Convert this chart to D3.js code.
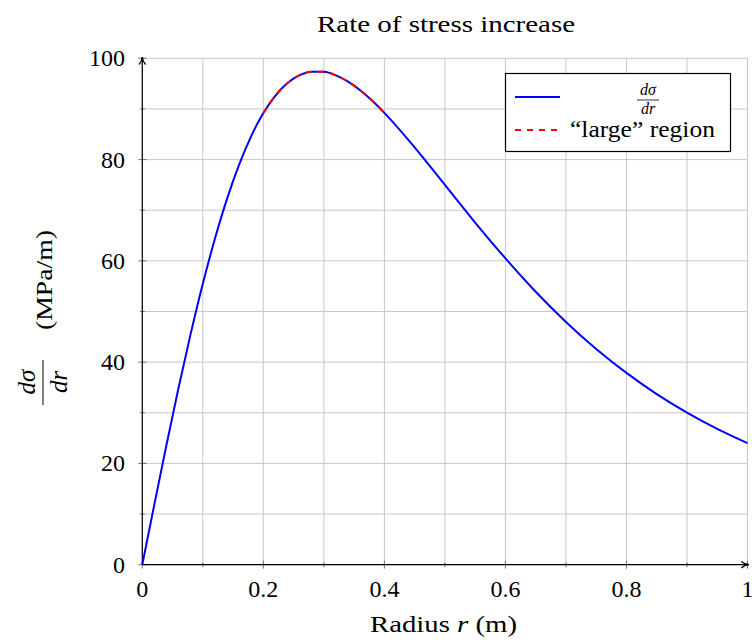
<!DOCTYPE html>
<head>
  <meta charset="utf-8">
  <script src="https://cdn.jsdelivr.net/npm/d3@7/dist/d3.min.js"></script>
  <style>
    body { margin:0; background:#fff; }
    text { font-family: "Liberation Serif", "DejaVu Serif", serif; fill:#000; }
    .grid line { stroke:#c8c8c8; stroke-width:1; }
  </style>
</head>
<body>
  <script>
    // values
    var radius = [0, 0.02, 0.04, 0.06, 0.08, 0.10, 0.12, 0.14, 0.16, 0.18, 0.20, 0.22, 0.24, 0.26, 0.28, 0.30,
                  0.32, 0.34, 0.36, 0.38, 0.40, 0.45, 0.50, 0.55, 0.60, 0.65, 0.70, 0.75, 0.80, 0.85, 0.90, 0.95, 1.00];
    var rate = [0, 11.96, 23.70, 34.99, 45.63, 55.47, 64.37, 72.23, 78.99, 84.64, 89.18, 92.65, 95.12, 96.66, 97.36, 97.32,
                96.63, 95.39, 93.69, 91.61, 89.23, 82.42, 75.00, 67.57, 60.50, 53.90, 47.94, 42.60, 37.88, 33.70, 30.04, 26.82, 24.00];
    var largeFrom = 0.2, largeTo = 0.4;
    var xTicks = [0, 0.2, 0.4, 0.6, 0.8, 1];
    var yTicks = [0, 20, 40, 60, 80, 100];
    var xMinor = [0.1, 0.3, 0.5, 0.7, 0.9];
    var yMinor = [10, 30, 50, 70, 90];

    var width = 752, height = 642;
    var svg = d3.select("body").append("svg").attr("width", width).attr("height", height);

    var x = d3.scaleLinear().domain([0, 1]).range([142.3, 747.5]);
    var y = d3.scaleLinear().domain([0, 100]).range([564.7, 58.3]);

    var pts = radius.map(function(r, i) { return [r, rate[i]]; });
    var large = pts.filter(function(p) { return p[0] >= largeFrom - 1e-9 && p[0] <= largeTo + 1e-9; });

    // grid
    var grid = svg.append("g").attr("class", "grid");
    grid.selectAll(".gx").data(xTicks.concat(xMinor)).enter().append("line")
      .attr("x1", function(d){ return x(d); }).attr("x2", function(d){ return x(d); })
      .attr("y1", y(0)).attr("y2", y(100));
    grid.selectAll(".gy").data(yTicks.concat(yMinor)).enter().append("line")
      .attr("x1", x(0)).attr("x2", x(1))
      .attr("y1", function(d){ return y(d); }).attr("y2", function(d){ return y(d); });

    // ticks
    var tk = svg.append("g").attr("stroke", "#555").attr("stroke-width", 0.8);
    xTicks.concat(xMinor).forEach(function(d){
      var len = xTicks.indexOf(d) >= 0 ? 4 : 2.5;
      tk.append("line").attr("x1", x(d)).attr("x2", x(d)).attr("y1", y(0) - len).attr("y2", y(0) + len);
    });
    yTicks.concat(yMinor).forEach(function(d){
      var len = yTicks.indexOf(d) >= 0 ? 4 : 2.5;
      tk.append("line").attr("y1", y(d)).attr("y2", y(d)).attr("x1", x(0) - len).attr("x2", x(0) + len);
    });

    // tick labels
    svg.selectAll(".xl").data(xTicks).enter().append("text")
      .attr("x", function(d){ return x(d); }).attr("y", 597)
      .attr("text-anchor", "middle").style("font-size", "24px")
      .text(function(d){ return d === 0 || d === 1 ? d3.format("d")(d) : d3.format(".1f")(d); });
    svg.selectAll(".yl").data(yTicks).enter().append("text")
      .attr("x", 125).attr("y", function(d){ return y(d) + 8; })
      .attr("text-anchor", "end").style("font-size", "24px")
      .text(function(d){ return d; });

    // axis lines with arrows
    var defs = svg.append("defs");
    defs.append("marker").attr("id", "arr").attr("viewBox", "0 0 10 10")
      .attr("refX", 9).attr("refY", 5).attr("markerWidth", 8).attr("markerHeight", 8)
      .attr("markerUnits", "userSpaceOnUse").attr("orient", "auto")
      .append("path").attr("d", "M0,1 Q5,5 10,5 Q5,5 0,9").attr("fill", "none")
      .attr("stroke", "#000").attr("stroke-width", 1.6);
    svg.append("line").attr("x1", x(0)).attr("x2", x(1) + 1).attr("y1", y(0)).attr("y2", y(0))
      .attr("stroke", "#000").attr("stroke-width", 1.2).attr("marker-end", "url(#arr)");
    svg.append("line").attr("x1", x(0)).attr("x2", x(0)).attr("y1", y(0)).attr("y2", y(100) - 1)
      .attr("stroke", "#000").attr("stroke-width", 1.2).attr("marker-end", "url(#arr)");

    // curves
    var line = d3.line().x(function(d){ return x(d[0]); }).y(function(d){ return y(d[1]); }).curve(d3.curveMonotoneX);
    svg.append("path").datum(pts).attr("d", line)
      .attr("fill", "none").attr("stroke", "#0000ff").attr("stroke-width", 2);
    svg.append("path").datum(large).attr("d", line)
      .attr("fill", "none").attr("stroke", "#ff0000").attr("stroke-width", 2).attr("stroke-dasharray", "6,6");

    // title
    svg.append("text").attr("x", 446).attr("y", 32).attr("text-anchor", "middle")
      .attr("textLength", 258).attr("lengthAdjust", "spacingAndGlyphs")
      .style("font-size", "24px").text("Rate of stress increase");

    // x label
    var xl = svg.append("text").attr("x", 443.5).attr("y", 632).attr("text-anchor", "middle")
      .attr("textLength", 147).attr("lengthAdjust", "spacingAndGlyphs").style("font-size", "24px");
    xl.append("tspan").text("Radius ");
    xl.append("tspan").style("font-style", "italic").text("r");
    xl.append("tspan").text(" (m)");

    // y label
    var yl = svg.append("g").attr("transform", "translate(43,310) rotate(-90)");
    yl.append("text").attr("x", -72).attr("y", -8).attr("text-anchor", "middle")
      .style("font-size", "25px").style("font-style", "italic").text("dσ");
    yl.append("line").attr("x1", -95).attr("x2", -50).attr("y1", 0).attr("y2", 0)
      .attr("stroke", "#000").attr("stroke-width", 1);
    yl.append("text").attr("x", -72).attr("y", 24).attr("text-anchor", "middle")
      .style("font-size", "25px").style("font-style", "italic").text("dr");
    yl.append("text").attr("x", -20).attr("y", 9).attr("text-anchor", "start")
      .attr("textLength", 100).attr("lengthAdjust", "spacingAndGlyphs")
      .style("font-size", "24px").text("(MPa/m)");

    // legend
    var lg = svg.append("g");
    lg.append("rect").attr("x", 505.5).attr("y", 73.5).attr("width", 225).attr("height", 78)
      .attr("fill", "#fff").attr("stroke", "#000").attr("stroke-width", 1.2);
    lg.append("line").attr("x1", 515).attr("x2", 560).attr("y1", 97).attr("y2", 97)
      .attr("stroke", "#0000ff").attr("stroke-width", 2);
    lg.append("text").attr("x", 648).attr("y", 95).attr("text-anchor", "middle")
      .style("font-size", "16px").style("font-style", "italic").text("dσ");
    lg.append("line").attr("x1", 637).attr("x2", 659).attr("y1", 100).attr("y2", 100)
      .attr("stroke", "#000").attr("stroke-width", 0.8);
    lg.append("text").attr("x", 648).attr("y", 114).attr("text-anchor", "middle")
      .style("font-size", "16px").style("font-style", "italic").text("dr");
    lg.append("line").attr("x1", 515).attr("x2", 560).attr("y1", 130).attr("y2", 130)
      .attr("stroke", "#ff0000").attr("stroke-width", 2).attr("stroke-dasharray", "6,6");
    lg.append("text").attr("x", 570).attr("y", 137).attr("textLength", 145).attr("lengthAdjust", "spacingAndGlyphs")
      .style("font-size", "23px").text("\u201Clarge\u201D region");
  </script>
</body>
